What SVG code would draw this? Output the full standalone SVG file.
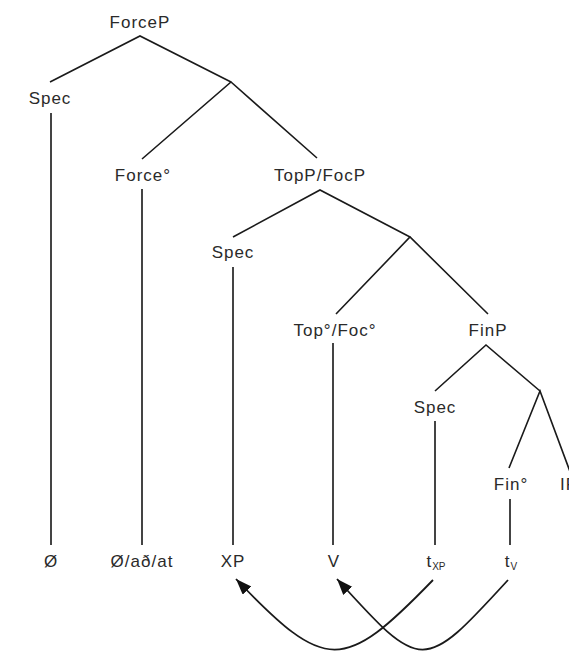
<svg xmlns="http://www.w3.org/2000/svg" width="569" height="653" viewBox="0 0 569 653">
<defs>
<style>
text{font-family:"Liberation Sans",Arial,sans-serif;font-size:17px;fill:#2a2a2a;text-anchor:middle;letter-spacing:1px}
.sub{font-size:10px;letter-spacing:0}
.br{stroke:#1a1a1a;stroke-width:1.6;fill:none}
.vt{stroke:#444;stroke-width:2;fill:none}
.mv{stroke:#1a1a1a;stroke-width:1.8;fill:none;marker-end:url(#ah)}
</style>
<marker id="ah" markerUnits="userSpaceOnUse" markerWidth="18" markerHeight="14" refX="16" refY="6" orient="auto">
<path d="M0,0 L16,6 L0,12 Z" fill="#111"/>
</marker>
</defs>
<g id="connectors">
<path class="br" d="M50,82 L140,36 L231,82"/>
<path class="br" d="M142,159 L231,82 L317,158"/>
<path class="br" d="M233,237 L320,190 L410,237"/>
<path class="br" d="M336,314 L410,237 L488,314"/>
<path class="br" d="M435,391 L486,345 L540,391"/>
<path class="br" d="M509,468 L540,391 L575,485"/>
<path class="vt" d="M51,113 V545"/>
<path class="vt" d="M142,189 V545"/>
<path class="vt" d="M233,267 V545"/>
<path class="vt" d="M333,343 V545"/>
<path class="vt" d="M435,421 V545"/>
<path class="vt" d="M510,499 V545"/>
<path class="mv" d="M433,580 C343,673 326,673 236,579"/>
<path class="mv" d="M508,580 C423,673 422,673 337,579"/>
</g>
<g id="ForceP"><text x="140" y="28">ForceP</text></g>
<g id="Spec1"><text x="50" y="104">Spec</text></g>
<g id="Force0"><text x="143" y="181">Force°</text></g>
<g id="TopPFocP"><text x="320" y="181">TopP/FocP</text></g>
<g id="Spec2"><text x="233" y="258">Spec</text></g>
<g id="Top0Foc0"><text x="335" y="336">Top°/Foc°</text></g>
<g id="FinP"><text x="488" y="336">FinP</text></g>
<g id="Spec3"><text x="435" y="413">Spec</text></g>
<g id="Fin0"><text x="511" y="490">Fin°</text></g>
<g id="IP"><text x="560" y="490" style="text-anchor:start">IP</text></g>
<g id="leaf1"><text x="51" y="567">Ø</text></g>
<g id="leaf2"><text x="142" y="567">Ø/að/at</text></g>
<g id="leaf3"><text x="233" y="567">XP</text></g>
<g id="leaf4"><text x="334" y="567">V</text></g>
<g id="leaf5"><text x="436" y="567">t<tspan class="sub" dy="3">XP</tspan></text></g>
<g id="leaf6"><text x="511" y="567">t<tspan class="sub" dy="3">V</tspan></text></g>
</svg>
